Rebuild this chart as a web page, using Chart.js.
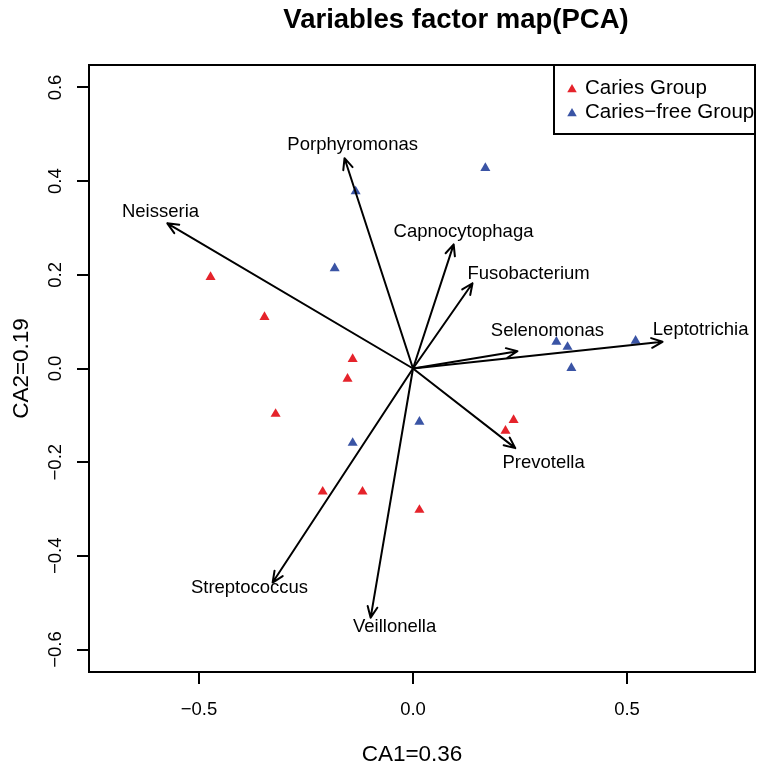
<!DOCTYPE html>
<html>
<head>
<meta charset="utf-8">
<title>Variables factor map(PCA)</title>
<script src="https://cdn.jsdelivr.net/npm/chart.js@4.4.1/dist/chart.umd.min.js"></script>
<style>
  html, body { margin: 0; padding: 0; background: #fff; }
  #wrap { width: 764px; height: 767px; }
</style>
</head>
<body>
<div id="wrap"><canvas id="pca" width="764" height="767"></canvas></div>
<script>
// sample scores
const cariesX = [-0.473, -0.347, -0.141, -0.153, -0.321, -0.211, -0.118, 0.015, 0.235, 0.216];
const cariesY = [0.195, 0.110, 0.020, -0.022, -0.097, -0.263, -0.263, -0.302, -0.110, -0.133];
const freeX = [-0.134, -0.183, 0.169, 0.335, 0.361, 0.370, 0.520, 0.015, -0.141];
const freeY = [0.378, 0.214, 0.428, 0.057, 0.046, 0.001, 0.059, -0.114, -0.159];

// genus loadings (arrow tips) and where each name sits, both in axis units
const genera = ['Neisseria', 'Porphyromonas', 'Capnocytophaga', 'Fusobacterium', 'Selenomonas',
                'Leptotrichia', 'Prevotella', 'Streptococcus', 'Veillonella'];
const loadX = [-0.574, -0.160, 0.095, 0.139, 0.244, 0.583, 0.239, -0.328, -0.099];
const loadY = [0.310, 0.449, 0.265, 0.182, 0.037, 0.057, -0.170, -0.457, -0.532];
const nameX = [-0.590, -0.141, 0.118, 0.270, 0.314, 0.672, 0.305, -0.382, -0.043];
const nameY = [0.334, 0.478, 0.292, 0.201, 0.080, 0.083, -0.201, -0.469, -0.551];

const xTicks = [-0.5, 0.0, 0.5];
const yTicks = [-0.6, -0.4, -0.2, 0.0, 0.2, 0.4, 0.6];
const groupNames = ['Caries Group', 'Caries\u2212free Group'];
const groupColors = ['#E5232B', '#3A54A5'];

const FONT = "'Liberation Sans', Arial, Helvetica, sans-serif";

function fmt(v) {
    return v.toFixed(1).replace('-', '\u2212');
}

function triangle(ctx, x, y, r, color) {
    // same geometry as Chart.js 'triangle' point style
    ctx.beginPath();
    ctx.moveTo(x, y - r);
    ctx.lineTo(x + r * Math.sin(2 * Math.PI / 3), y + r / 2);
    ctx.lineTo(x - r * Math.sin(2 * Math.PI / 3), y + r / 2);
    ctx.closePath();
    ctx.fillStyle = color;
    ctx.fill();
}

const pcaDecor = {
    id: 'pcaDecor',
    beforeDraw(chart) {
        const ctx = chart.ctx;
        ctx.save();
        ctx.fillStyle = '#fff';
        ctx.fillRect(0, 0, chart.width, chart.height);
        ctx.restore();
    },
    afterDatasetsDraw(chart) {
        const ctx = chart.ctx;
        const xs = chart.scales.x, ys = chart.scales.y;
        const x0 = xs.getPixelForValue(0), y0 = ys.getPixelForValue(0);
        const head = 12, spread = Math.PI / 7.5;

        ctx.save();
        ctx.strokeStyle = '#000';
        ctx.lineWidth = 2;
        ctx.lineCap = 'round';
        ctx.lineJoin = 'round';
        loadX.forEach((vx, i) => {
            const x1 = xs.getPixelForValue(vx), y1 = ys.getPixelForValue(loadY[i]);
            const a = Math.atan2(y1 - y0, x1 - x0);
            ctx.beginPath();
            ctx.moveTo(x0, y0);
            ctx.lineTo(x1, y1);
            ctx.moveTo(x1 - head * Math.cos(a - spread), y1 - head * Math.sin(a - spread));
            ctx.lineTo(x1, y1);
            ctx.lineTo(x1 - head * Math.cos(a + spread), y1 - head * Math.sin(a + spread));
            ctx.stroke();
        });

        // genus names
        ctx.fillStyle = '#000';
        ctx.font = '18.5px ' + FONT;
        ctx.textAlign = 'center';
        ctx.textBaseline = 'middle';
        genera.forEach((g, i) => {
            ctx.fillText(g, xs.getPixelForValue(nameX[i]), ys.getPixelForValue(nameY[i]));
        });
        ctx.restore();
    },
    afterDraw(chart) {
        const ctx = chart.ctx;
        const area = chart.chartArea;
        const xs = chart.scales.x, ys = chart.scales.y;
        ctx.save();

        // plot box
        ctx.strokeStyle = '#000';
        ctx.lineWidth = 2;
        ctx.strokeRect(area.left, area.top, area.right - area.left, area.bottom - area.top);

        // tick labels
        ctx.fillStyle = '#000';
        ctx.font = '18.5px ' + FONT;
        ctx.textAlign = 'center';
        ctx.textBaseline = 'middle';
        xs.ticks.forEach(t => {
            ctx.fillText(fmt(t.value), xs.getPixelForValue(t.value), area.bottom + 38);
        });
        ys.ticks.forEach(t => {
            ctx.save();
            ctx.translate(area.left - 33, ys.getPixelForValue(t.value));
            ctx.rotate(-Math.PI / 2);
            ctx.fillText(fmt(t.value), 0, 0);
            ctx.restore();
        });

        // axis titles
        ctx.font = '22.5px ' + FONT;
        ctx.fillText('CA1=0.36', (area.left + area.right) / 2 - 10, area.bottom + 83);
        ctx.save();
        ctx.translate(22, (area.top + area.bottom) / 2);
        ctx.rotate(-Math.PI / 2);
        ctx.fillText('CA2=0.19', 0, 0);
        ctx.restore();

        // main title
        ctx.font = 'bold 27.5px ' + FONT;
        ctx.textBaseline = 'alphabetic';
        ctx.fillText('Variables factor map(PCA)', 456, 28);

        // legend
        const lx = 554, lw = area.right - lx, lh = 69;
        ctx.fillStyle = '#fff';
        ctx.fillRect(lx, area.top, lw, lh);
        ctx.strokeRect(lx, area.top, lw, lh);
        ctx.font = '20.5px ' + FONT;
        ctx.textAlign = 'left';
        ctx.textBaseline = 'middle';
        groupNames.forEach((name, i) => {
            const cy = area.top + 23 + i * 24;
            triangle(ctx, lx + 18, cy + 1.5, 5.5, groupColors[i]);
            ctx.fillStyle = '#000';
            ctx.fillText(name, lx + 31, cy);
        });
        ctx.restore();
    }
};

const axisGrid = {
    drawOnChartArea: false,
    drawTicks: true,
    tickLength: 12,
    color: '#000',
    lineWidth: 2
};

new Chart(document.getElementById('pca'), {
    type: 'scatter',
    data: {
        datasets: [
            {
                label: groupNames[0],
                data: cariesX.map((x, i) => ({ x: x, y: cariesY[i] })),
                pointStyle: 'triangle',
                pointRadius: 5.8,
                borderWidth: 0,
                backgroundColor: groupColors[0]
            },
            {
                label: groupNames[1],
                data: freeX.map((x, i) => ({ x: x, y: freeY[i] })),
                pointStyle: 'triangle',
                pointRadius: 5.8,
                borderWidth: 0,
                backgroundColor: groupColors[1]
            }
        ]
    },
    options: {
        responsive: false,
        animation: false,
        events: [],
        layout: { padding: { top: 65, right: 9, left: 0, bottom: 0 } },
        plugins: {
            legend: { display: false },
            title: { display: false },
            tooltip: { enabled: false }
        },
        scales: {
            x: {
                type: 'linear',
                min: -0.757,
                max: 0.799,
                afterBuildTicks: s => { s.ticks = xTicks.map(v => ({ value: v })); },
                afterFit: s => { s.height = 95; },
                ticks: { display: false },
                grid: axisGrid,
                border: { display: false }
            },
            y: {
                type: 'linear',
                min: -0.648,
                max: 0.648,
                afterBuildTicks: s => { s.ticks = yTicks.map(v => ({ value: v })); },
                afterFit: s => { s.width = 89; },
                ticks: { display: false },
                grid: axisGrid,
                border: { display: false }
            }
        }
    },
    plugins: [pcaDecor]
});
</script>
</body>
</html>
